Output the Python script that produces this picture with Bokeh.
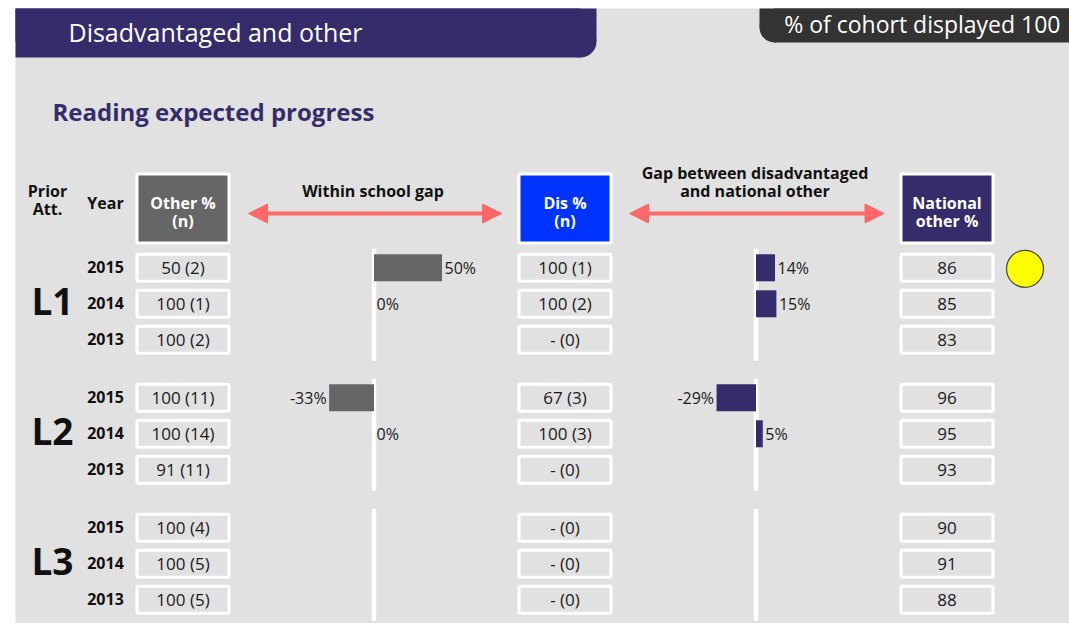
from bokeh.plotting import figure
from bokeh.models import Range1d, Arrow, NormalHead, ColumnDataSource
from bokeh.core.properties import value
from bokeh.embed import file_html
from bokeh.resources import INLINE

# ---------------- data ----------------
levels = ["L1", "L2", "L3"]
years = ["2015", "2014", "2013"]
other_pct = [50, 100, 100, 100, 100, 91, 100, 100, 100]
other_n = [2, 1, 2, 11, 14, 11, 4, 5, 5]
dis_pct = [100, 100, None, 67, 100, None, None, None, None]
dis_n = [1, 2, 0, 3, 3, 0, 0, 0, 0]
national_other = [86, 85, 83, 96, 95, 93, 90, 91, 88]
within_gap = [50, 0, None, -33, 0, None, None, None, None]
national_gap = [14, 15, None, -29, 5, None, None, None, None]
flag = [1, 0, 0, 0, 0, 0, 0, 0, 0]

title = "Disadvantaged and other"
cohort_label = "% of cohort displayed 100"
subtitle = "Reading expected progress"

# ---------------- layout (screen px) ----------------
W, H = 1069, 623
FONT = value("Open Sans")
NAVY = "#352c6b"
GREY = "#666666"
BLUE = "#0033ff"
PANEL = "#e1e1e1"
ARROW_C = "#ff6868"
TXT = "#1a1a1a"

ROW0, ROW_STEP, GROUP_STEP = 267.3, 36, 130
row_y = [ROW0 + g * GROUP_STEP + i * ROW_STEP for g in range(len(levels)) for i in range(len(years))]
group_mid = [ROW0 + g * GROUP_STEP + ROW_STEP for g in range(len(levels))]

X_LEVEL, X_YEAR = 52, 105
X_OTHER, X_DIS, X_NAT = 182.5, 564.5, 946.5
CELL_W, CELL_H = 92, 27
ZERO1, ZERO2 = 373.5, 755.5
PX_PER_PCT = 1.36

p = figure(width=W, height=H, x_range=Range1d(0, W), y_range=Range1d(H, 0),
           output_backend="svg", toolbar_location=None, min_border=0,
           x_axis_location=None, y_axis_location=None,
           background_fill_color="white", border_fill_color="white",
           outline_line_color=None)
p.grid.visible = False

p.extra_x_ranges = {
    "wsg": Range1d(-ZERO1 / PX_PER_PCT, (W - ZERO1) / PX_PER_PCT),
    "nat": Range1d(-ZERO2 / PX_PER_PCT, (W - ZERO2) / PX_PER_PCT),
}

# panel
p.quad(left=15, right=W, top=8, bottom=H, fill_color=PANEL, line_color=None)

# header bar with rounded bottom-right corner
R1 = 16
p.quad(left=15, right=596, top=8, bottom=57 - R1, fill_color=NAVY, line_color=None)
p.quad(left=15, right=596 - R1, top=8, bottom=57, fill_color=NAVY, line_color=None)
p.circle(x=[596 - R1], y=[57 - R1], radius=R1, fill_color=NAVY, line_color=None)
p.text(x=[68], y=[31], text=[title], text_font=FONT, text_font_size="25px",
       text_color="white", text_baseline="middle", text_align="left")

# cohort box with rounded bottom-left corner
R2 = 15
p.quad(left=759 + R2, right=W, top=8, bottom=42, fill_color="#333333", line_color=None)
p.quad(left=759, right=W, top=8, bottom=42 - R2, fill_color="#333333", line_color=None)
p.circle(x=[759 + R2], y=[42 - R2], radius=R2, fill_color="#333333", line_color=None)
p.text(x=[1060], y=[23.5], text=[cohort_label], text_font=FONT, text_font_size="23px",
       text_color="white", text_baseline="middle", text_align="right")

p.text(x=[52], y=[110.5], text=[subtitle], text_font=FONT, text_font_size="24px",
       text_font_style="bold", text_color=NAVY, text_baseline="middle", text_align="left")

# column header labels
def label(x, y, t, size="16px", bold=True, color="#111111", align="center"):
    p.text(x=[x], y=[y], text=[t], text_font=FONT, text_font_size=size,
           text_font_style="bold" if bold else "normal", text_color=color,
           text_baseline="middle", text_align=align)

label(47, 190, "Prior")
label(47, 208, "Att.")
label(X_YEAR, 202, "Year")
label(372.5, 190, "Within school gap")
label(754.5, 172, "Gap between disadvantaged")
label(754.5, 190, "and national other")

for xc, fill, l1, l2 in [(X_OTHER, GREY, "Other %", "(n)"),
                         (X_DIS, BLUE, "Dis %", "(n)"),
                         (X_NAT, NAVY, "National", "other %")]:
    p.rect(x=[xc], y=[208], width=CELL_W, height=69, fill_color=fill,
           line_color="white", line_width=3)
    label(xc, 202.5, l1, color="white")
    label(xc, 220.5, l2, color="white")

# arrows
for xs, xe in [(248, 501), (629, 883.5)]:
    p.add_layout(Arrow(start=NormalHead(size=19, fill_color=ARROW_C, line_color=ARROW_C),
                       end=NormalHead(size=19, fill_color=ARROW_C, line_color=ARROW_C),
                       x_start=xs, y_start=213, x_end=xe, y_end=213,
                       line_color=ARROW_C, line_width=4))

# level & year labels
for g, lv in enumerate(levels):
    label(X_LEVEL, group_mid[g] - 3, lv, size="37px")
for i, y in enumerate(row_y):
    label(X_YEAR, y - 1, years[i % len(years)], size="16px")

# cells
def cell_text(pct, n):
    return ("-" if pct is None else str(pct)) + f" ({n})"

for xc, texts in [(X_OTHER, [cell_text(a, b) for a, b in zip(other_pct, other_n)]),
                  (X_DIS, [cell_text(a, b) for a, b in zip(dis_pct, dis_n)]),
                  (X_NAT, [str(v) for v in national_other])]:
    p.rect(x=[xc] * len(row_y), y=row_y, width=CELL_W, height=CELL_H,
           fill_alpha=0, line_color="white", line_width=3)
    p.text(x=[xc] * len(row_y), y=row_y, text=texts, text_font=FONT,
           text_font_size="17px", text_color=TXT, text_baseline="middle",
           text_align="center")

# zero lines
for zx in (ZERO1, ZERO2):
    for g in range(len(levels)):
        top = row_y[g * 3] - 19
        bot = row_y[g * 3 + 2] + 21
        p.segment(x0=[zx], y0=[top], x1=[zx], y1=[bot], line_color="white", line_width=4.5)

# gap bars
for rng, vals, col in [("wsg", within_gap, GREY), ("nat", national_gap, NAVY)]:
    ys = [y for y, v in zip(row_y, vals) if v is not None]
    vs = [v for v in vals if v is not None]
    src = ColumnDataSource(dict(y=ys, v=vs, t=[f"{v}%" for v in vs]))
    p.hbar(y="y", left=0, right="v", height=27, source=src, x_range_name=rng,
           fill_color=col, line_color=None)
    pos = ColumnDataSource(dict(y=[y for y, v in zip(ys, vs) if v >= 0],
                                v=[v for v in vs if v >= 0],
                                t=[f"{v}%" for v in vs if v >= 0]))
    neg = ColumnDataSource(dict(y=[y for y, v in zip(ys, vs) if v < 0],
                                v=[v for v in vs if v < 0],
                                t=[f"{v}%" for v in vs if v < 0]))
    p.text(x="v", y="y", text="t", source=pos, x_range_name=rng, x_offset=2.5,
           text_font=FONT, text_font_size="16px", text_color=TXT,
           text_baseline="middle", text_align="left")
    p.text(x="v", y="y", text="t", source=neg, x_range_name=rng, x_offset=-2.5,
           text_font=FONT, text_font_size="16px", text_color=TXT,
           text_baseline="middle", text_align="right")

# status indicator
fx = [1024.5 for f in flag if f]
fy = [y for y, f in zip(row_y, flag) if f]
p.circle(x=fx, y=[y + 1 for y in fy], radius=18.5, fill_color="#ffff00",
         line_color="#444444", line_width=1.2)

open("out.html", "w").write(file_html(p, INLINE))
